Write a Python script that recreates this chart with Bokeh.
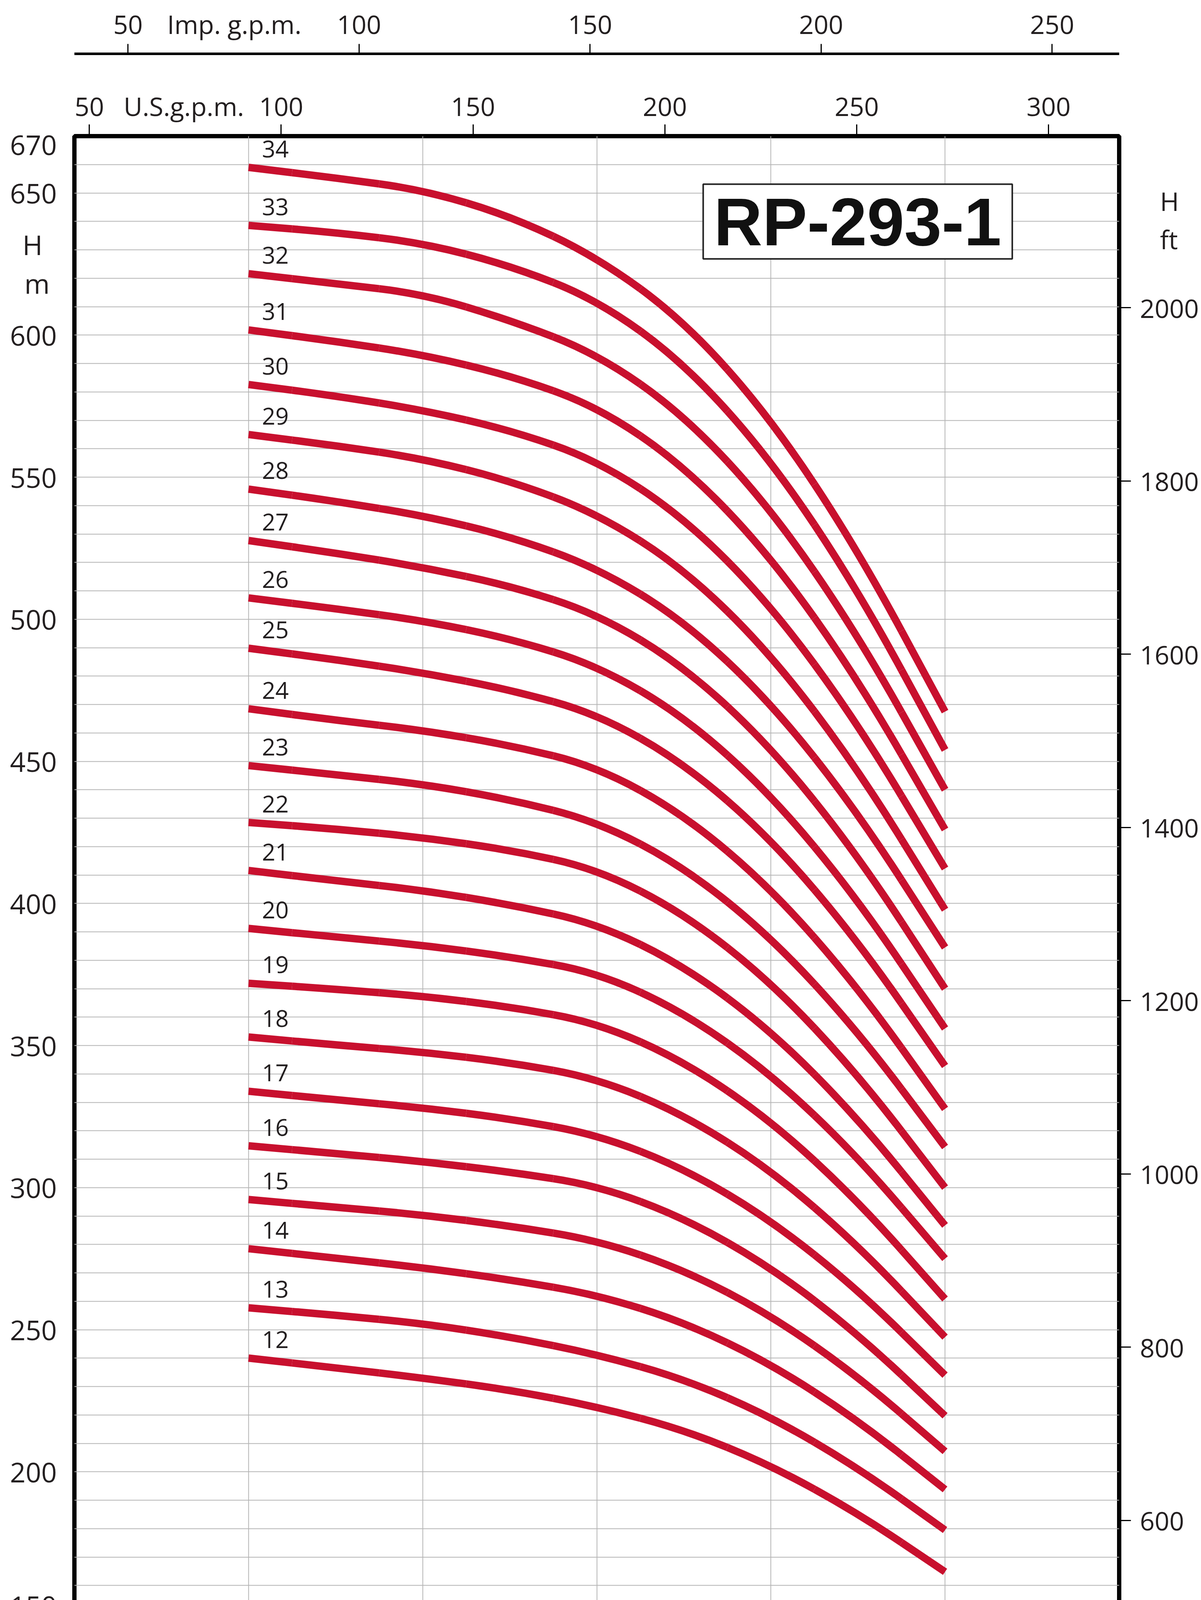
from bokeh.plotting import figure
from bokeh.models import Range1d, LinearAxis, FixedTicker, Grid
from bokeh.layouts import column
from bokeh.embed import file_html
from bokeh.resources import INLINE
from bokeh.core.properties import value

# ---------------- data ----------------
flow = [20, 25, 30, 35, 40, 45, 50, 55, 60]          # m3/h
stages = list(range(12, 35))                        # 12 ... 34
head_q20 = [240.0, 257.7, 278.5, 295.8, 314.7, 333.9, 353.0, 371.9, 391.2, 411.6, 428.5, 448.5,
            468.5, 489.8, 507.5, 527.7, 545.8, 565.0, 582.6, 601.8, 621.6, 638.6, 659.0]
head_q25 = [236.6, 255.1, 275.2, 293.1, 312.0, 330.9, 350.2, 369.8, 388.2, 408.0, 426.2, 445.3,
            464.5, 485.8, 503.7, 523.3, 541.5, 561.1, 578.6, 597.8, 618.1, 636.1, 655.3]
head_q30 = [233.0, 252.2, 271.8, 290.4, 309.2, 328.1, 347.7, 367.4, 385.3, 404.6, 423.2, 442.0,
            460.9, 481.2, 499.5, 518.3, 536.5, 556.5, 573.6, 593.1, 614.5, 632.4, 651.1]
head_q35 = [228.8, 247.5, 267.6, 286.5, 305.5, 324.2, 344.0, 363.6, 381.2, 399.6, 418.8, 436.6,
            455.7, 475.2, 493.2, 511.8, 529.2, 548.8, 566.6, 585.8, 605.3, 624.5, 642.0]
head_q40 = [222.9, 241.3, 262.3, 281.5, 300.8, 318.7, 338.5, 358.1, 375.8, 393.0, 412.2, 428.9,
            448.2, 466.8, 483.8, 502.0, 518.2, 537.3, 556.0, 575.0, 593.5, 612.5, 627.5]
head_q45 = [214.8, 232.7, 252.7, 271.1, 289.4, 306.8, 325.7, 344.5, 361.7, 378.1, 396.5, 412.9,
            431.3, 449.4, 465.9, 483.5, 499.5, 517.8, 535.9, 554.1, 572.0, 590.3, 605.1]
head_q50 = [202.3, 219.4, 238.0, 255.1, 272.0, 288.6, 306.2, 323.6, 340.0, 355.3, 372.4, 388.2,
            405.4, 422.8, 438.4, 455.1, 470.7, 487.8, 505.0, 522.1, 539.0, 556.2, 570.7]
head_q55 = [185.4, 201.4, 218.1, 233.6, 248.5, 264.1, 279.7, 295.3, 310.8, 324.4, 339.8, 355.0,
            370.5, 386.8, 401.4, 416.9, 432.0, 447.3, 463.3, 478.9, 494.5, 510.3, 524.3]
head_q60 = [164.8, 179.5, 193.8, 207.2, 219.7, 234.0, 247.4, 260.8, 275.0, 286.7, 300.0, 314.3,
            327.7, 342.8, 356.0, 370.0, 384.5, 397.8, 412.3, 426.0, 440.0, 454.0, 467.5]

eff_flow = [20, 22.5, 25, 27.5, 30, 32.5, 35, 37.5, 40, 42.5, 45, 47.5, 50, 52.5, 55, 57.5, 60]
efficiency = [65.1, 67.8, 70.3, 72.0, 73.6, 74.6, 75.4, 75.5, 75.0, 73.9, 72.7, 71.4, 69.8,
              68.0, 65.9, 63.7, 61.2]
npsh = [2.23, 2.47, 2.70, 2.90, 3.09, 3.25, 3.40, 3.55, 3.71, 3.88, 4.06, 4.27, 4.49, 4.73,
        4.99, 5.27, 5.57]

imp_ticks = [50, 100, 150, 200, 250]
us_ticks = [50, 100, 150, 200, 250, 300]
m3h_ticks = [10.92, 20, 30, 40, 50, 60, 69.2]
ls_ticks = [3, 5, 7, 9, 11, 13, 15, 17, 19]
h_ticks = [152.9, 200, 250, 300, 350, 400, 450, 500, 550, 600, 650, 667.1]
ft_ticks = [600, 800, 1000, 1200, 1400, 1600, 1800, 2000]
eff_ticks = [41.2, 50, 60, 70, 78.4]
npsh_ticks = [2.25, 4, 6, 8]

# ---------------- styling ----------------
RED = "#c8102e"
BLUE = "#173f6e"
INK = "#231f20"
GRID = "#b4b4b4"
FONT = "Open Sans"
NB = "\u00a0"
W = 3075
FL, FR = 190, 210          # frame spans x = 190 ... 2865
MAIN_FRAME_H = 3783


def fig(**kw):
    kw.setdefault("min_border_left", FL)
    kw.setdefault("min_border_right", FR)
    p = figure(width=W, output_backend="svg", toolbar_location=None,
               x_axis_type=None, y_axis_type=None, **kw)
    p.background_fill_color = "white"
    p.border_fill_color = "white"
    p.outline_line_color = None
    return p


def axis(**kw):
    base = dict(major_tick_in=0, major_tick_out=0, minor_tick_in=0, minor_tick_out=0,
                major_tick_line_width=3, major_tick_line_color="black",
                minor_tick_line_width=3, minor_tick_line_color="black",
                axis_line_color=None, major_label_text_font=FONT,
                major_label_text_color=INK)
    base.update(kw)
    return LinearAxis(**base)


def smooth_segments(xv, yv):
    """Quadratic B-spline through the read points used as control points."""
    n = len(xv)
    mx = [(xv[i] + xv[i + 1]) / 2 for i in range(n - 1)]
    my = [(yv[i] + yv[i + 1]) / 2 for i in range(n - 1)]
    out = {k: [] for k in ("x0", "y0", "x1", "y1", "cx", "cy")}

    def add(xa, ya, xb, yb, cx, cy):
        out["x0"].append(xa); out["y0"].append(ya)
        out["x1"].append(xb); out["y1"].append(yb)
        out["cx"].append(cx); out["cy"].append(cy)

    add(xv[0], yv[0], mx[0], my[0], (xv[0] + mx[0]) / 2, (yv[0] + my[0]) / 2)
    for i in range(1, n - 1):
        add(mx[i - 1], my[i - 1], mx[i], my[i], xv[i], yv[i])
    add(mx[-1], my[-1], xv[-1], yv[-1], (mx[-1] + xv[-1]) / 2, (my[-1] + yv[-1]) / 2)
    return out


# ---------------- Imp. g.p.m. strip ----------------
imp_unit = 73.0
imp = fig(height=141, x_range=Range1d(38.4, 264.5), y_range=Range1d(0, 1),
          min_border_top=140, min_border_bottom=0)
imp.add_layout(axis(ticker=FixedTicker(ticks=imp_ticks + [imp_unit], minor_ticks=imp_ticks),
                    major_label_overrides={imp_unit: "Imp. g.p.m."},
                    axis_line_color="black", axis_line_width=12, minor_tick_out=28,
                    major_label_standoff=7, major_label_text_font_size="66px"), "above")

# ---------------- main head chart ----------------
main = fig(height=207 + MAIN_FRAME_H + 196, x_range=Range1d(10, 70), y_range=Range1d(150, 670),
           min_border_top=207, min_border_bottom=196)
main.extra_x_ranges = {"us": Range1d(46.1, 318.4)}
main.extra_y_ranges = {"ft": Range1d(150 / 0.3048, 670 / 0.3048)}
main.outline_line_color = "black"
main.outline_line_width = 11

main.add_layout(Grid(dimension=0, ticker=FixedTicker(ticks=[20, 30, 40, 50, 60]),
                     grid_line_color=GRID, grid_line_width=2))
main.add_layout(Grid(dimension=1, ticker=FixedTicker(ticks=list(range(160, 670, 10))),
                     grid_line_color=GRID, grid_line_width=2))

columns = [head_q20, head_q25, head_q30, head_q35, head_q40, head_q45, head_q50, head_q55, head_q60]
segs = {k: [] for k in ("x0", "y0", "x1", "y1", "cx", "cy")}
for i in range(len(stages)):
    s = smooth_segments(flow, [c[i] for c in columns])
    for k in segs:
        segs[k].extend(s[k])
main.quadratic(line_color=RED, line_width=19, line_cap="butt", **segs)

main.text(x=[20.77] * len(stages), y=[h + 6.5 for h in head_q20], text=[str(s) for s in stages],
          text_font=value(FONT), text_font_size="60px", text_align="left",
          text_baseline="alphabetic", text_color=INK)

# model name box
main.quad(left=[46.11], right=[63.86], bottom=[626.8], top=[653.1], fill_color="white",
          line_color="#222222", line_width=4)
main.text(x=[54.98], y=[639.8], text=["RP-293-1"], text_font=value("Liberation Sans"),
          text_font_style="bold", text_font_size="172px", text_align="center",
          text_baseline="middle", text_color="#111111")

h_unit, m_unit = 631.9, 618.3
main.add_layout(axis(ticker=FixedTicker(ticks=h_ticks + [h_unit, m_unit]),
                     major_label_overrides={152.9: "150", 667.1: "670",
                                            h_unit: "H" + NB * 2, m_unit: "m" + NB},
                     major_label_standoff=45, major_label_text_font_size="70px"), "left")
ftH, ftU = 647.2 / 0.3048, 633.8 / 0.3048
main.add_layout(axis(y_range_name="ft", ticker=FixedTicker(ticks=ft_ticks + [ftH, ftU],
                                                           minor_ticks=ft_ticks),
                     major_label_overrides={ftH: NB * 3 + "H", ftU: NB * 3 + "ft"},
                     minor_tick_out=30, major_label_standoff=23,
                     major_label_text_font_size="66px"), "right")
us_unit = 74.62
main.add_layout(axis(x_range_name="us", ticker=FixedTicker(ticks=us_ticks + [us_unit],
                                                           minor_ticks=us_ticks),
                     major_label_overrides={us_unit: "U.S.g.p.m."},
                     minor_tick_out=30, major_label_standoff=3,
                     major_label_text_font_size="66px"), "above")
q_unit = 15.41
main.add_layout(axis(ticker=FixedTicker(ticks=m3h_ticks + [q_unit]),
                     major_label_overrides={10.92: "10", 69.2: "70", q_unit: "m³/h"},
                     major_label_standoff=10, major_label_text_font_size="72px"), "below")

# ---------------- l/s strip ----------------
ls_unit = 4.115
ls = fig(height=113, x_range=Range1d(2.745, 19.56), y_range=Range1d(0, 1),
         min_border_top=0, min_border_bottom=112)
ls.add_layout(axis(ticker=FixedTicker(ticks=ls_ticks + [ls_unit], minor_ticks=ls_ticks),
                   major_label_overrides={ls_unit: "l/S"},
                   axis_line_color="black", axis_line_width=12, minor_tick_out=37,
                   major_label_standoff=-11, major_label_text_font_size="60px"), "below")

# ---------------- efficiency / NPSH captions strip (full-width frame) ----------------
cap = fig(height=138, x_range=Range1d(10 - FL / 44.58, 10 + (W - FL) / 44.58),
          y_range=Range1d(80.413, 89.914), min_border_left=0, min_border_right=0,
          min_border_top=0, min_border_bottom=0)
cap.frame_align = False
cap.text(x=[6.276, 6.276], y=[86.61, 83.30], text=["efficiency (η)", "%"],
         text_font=value(FONT), text_font_style="bold", text_font_size="58px",
         text_align="left", text_baseline="middle", text_color=INK)
cap.text(x=[72.36], y=[86.95], text=["NPSH"], text_font=value(FONT), text_font_style="bold",
         text_font_size="58px", text_align="center", text_baseline="middle", text_color=INK)

# ---------------- efficiency / NPSH chart ----------------
eff = fig(height=700, x_range=Range1d(10, 70), y_range=Range1d(40, 80),
          min_border_top=6, min_border_bottom=113)
eff.extra_y_ranges = {"npsh": Range1d(2, 10)}
eff.outline_line_color = "black"
eff.outline_line_width = 11

eff.varea(x=eff_flow, y1=[40] * len(eff_flow), y2=efficiency, fill_color="#f5c8d1",
          level="underlay")
eff.varea(x=eff_flow, y1=[2] * len(eff_flow), y2=npsh, y_range_name="npsh",
          fill_color="#dde1e8", level="underlay")
eff.add_layout(Grid(dimension=0, ticker=FixedTicker(ticks=[20, 30, 40, 50, 60]),
                    grid_line_color="#a0a0a0", grid_line_width=2))
eff.add_layout(Grid(dimension=1, ticker=FixedTicker(ticks=[50, 60, 70]),
                    grid_line_color="#a0a0a0", grid_line_width=3))
eff.line(eff_flow, efficiency, line_color=RED, line_width=19, line_join="round")
eff.line(eff_flow, npsh, y_range_name="npsh", line_color=BLUE, line_width=18, line_join="round")

eff.text(x=[32.97], y=[59.62], text=["EFFICIENCY"], text_font=value(FONT),
         text_font_style="bold", text_font_size="92px", text_align="center",
         text_baseline="middle", text_color=RED)
eff.text(x=[55.0], y=[44.89], text=["NPSH"], text_font=value(FONT), text_font_style="bold",
         text_font_size="92px", text_align="center", text_baseline="middle", text_color=BLUE)

eff.add_layout(axis(ticker=FixedTicker(ticks=eff_ticks),
                    major_label_overrides={41.2: "40", 78.4: "80"},
                    major_label_standoff=82, major_label_text_font_size="64px"), "left")
npsh_unit = 9.68
eff.add_layout(axis(y_range_name="npsh", ticker=FixedTicker(ticks=npsh_ticks + [npsh_unit]),
                    major_label_overrides={2.25: "2", npsh_unit: "m"},
                    major_label_standoff=135, major_label_text_font_size="64px"), "right")
eff.add_layout(axis(ticker=FixedTicker(ticks=m3h_ticks + [q_unit]),
                    major_label_overrides={10.92: "10", 69.2: "70", q_unit: "m³/h"},
                    major_label_standoff=22, major_label_text_font_size="66px"), "below")

page = column(imp, main, ls, cap, eff)
open("out.html", "w").write(file_html(page, INLINE))
